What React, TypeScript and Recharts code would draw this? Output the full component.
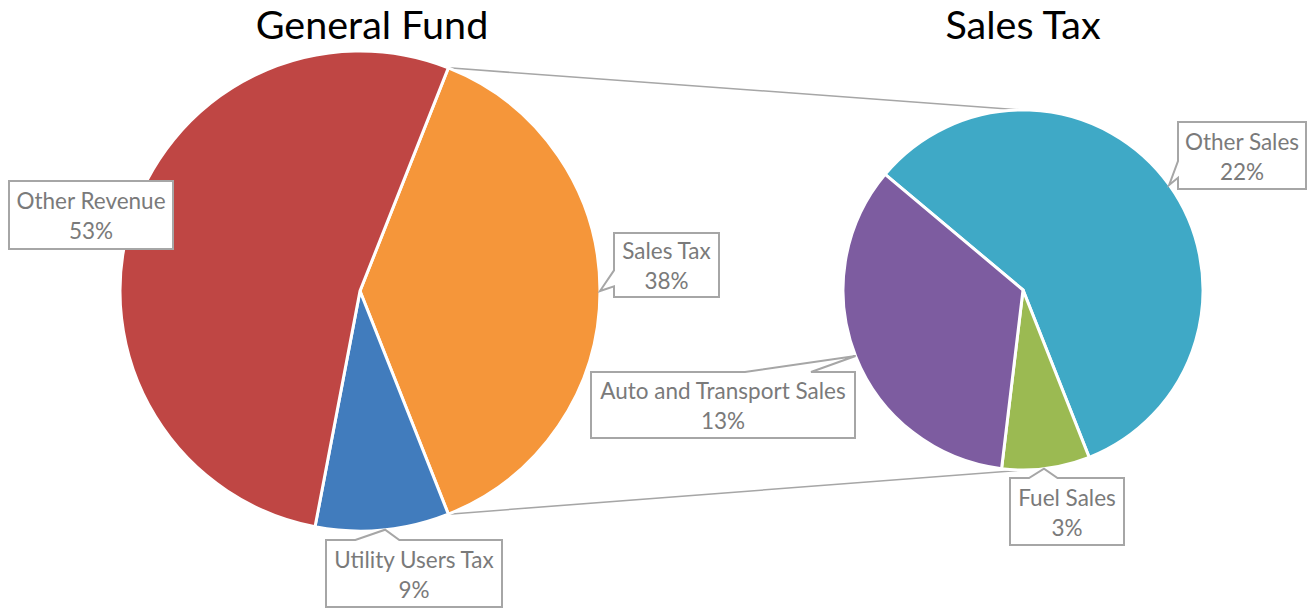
import React from 'react';
import { PieChart, Pie, Cell } from 'recharts';

// ---- data ----
const GF_CATEGORIES = ['Sales Tax', 'Utility Users Tax', 'Other Revenue'];
const GF_VALUES = [38, 9, 53];
const ST_CATEGORIES = ['Other Sales', 'Fuel Sales', 'Auto and Transport Sales'];
const ST_VALUES = [22, 3, 13];
const TITLES = ['General Fund', 'Sales Tax'];

// ---- styles / layout ----
const W = 1307;
const H = 608;
const GF_COLORS = ['#F5963A', '#417CBD', '#BF4644'];
const ST_COLORS = ['#3FA9C6', '#9BBA52', '#7D5CA0'];
const FONT = 'Lato, "Open Sans", sans-serif';
const LABEL_COLOR = '#7A7A7A';
const BOX_STROKE = '#A6A6A6';
const LABEL_SIZE = 22.5;
const TITLE_SIZE = 39.5;

const LEFT = { cx: 360, cy: 291, r: 240 };
const RIGHT = { cx: 1023, cy: 290, r: 180 };

// box centre offset from pie centre, box size, tip angle (deg, null = none)
const GF_LABEL_LAYOUT = [
  { dx: 306.5, dy: -26, w: 105, h: 64, tip: 0 },
  { dx: 54, dy: 282.5, w: 176, h: 67, tip: -84 },
  { dx: -269, dy: -76, w: 164, h: 68, tip: null },
];
const ST_LABEL_LAYOUT = [
  { dx: 219, dy: -134.5, w: 128, h: 67, tip: 35.7 },
  { dx: 44, dy: 221.5, w: 114, h: 67, tip: -83.3 },
  { dx: -300, dy: 115, w: 264, h: 66, tip: 201.5 },
];

const gfData = GF_CATEGORIES.map((name, i) => ({ name, value: GF_VALUES[i] }));
const stData = ST_CATEGORIES.map((name, i) => ({ name, value: ST_VALUES[i] }));

const gfStart = (GF_VALUES[0] / GF_VALUES.reduce((a, b) => a + b, 0)) * 180;
const stStart = 140;

function calloutPath(x: number, y: number, w: number, h: number, tx: number | null, ty: number | null) {
  const rect = `M${x},${y} L${x + w},${y} L${x + w},${y + h} L${x},${y + h} Z`;
  if (tx == null || ty == null) return rect;
  if (tx >= x && tx <= x + w && ty >= y && ty <= y + h) return rect;
  const hc = x + w / 2;
  const vc = y + h / 2;
  const dx = tx - hc;
  const dy = ty - vc;
  const dq = (dx * h) / w;
  const dz = Math.abs(dy) - Math.abs(dq);
  const x1 = x + (w * (dx > 0 ? 7 : 2)) / 12;
  const x2 = x + (w * (dx > 0 ? 10 : 5)) / 12;
  const y1 = y + (h * (dy > 0 ? 7 : 2)) / 12;
  const y2 = y + (h * (dy > 0 ? 10 : 5)) / 12;
  let d = `M${x},${y}`;
  if (dz > 0 && dy < 0) d += ` L${x1},${y} L${tx},${ty} L${x2},${y}`;
  d += ` L${x + w},${y}`;
  if (dz <= 0 && dx > 0) d += ` L${x + w},${y1} L${tx},${ty} L${x + w},${y2}`;
  d += ` L${x + w},${y + h}`;
  if (dz > 0 && dy > 0) d += ` L${x2},${y + h} L${tx},${ty} L${x1},${y + h}`;
  d += ` L${x},${y + h}`;
  if (dz <= 0 && dx < 0) d += ` L${x},${y2} L${tx},${ty} L${x},${y1}`;
  d += ' Z';
  return d;
}

function makeLabel(layout: typeof GF_LABEL_LAYOUT) {
  return (props: any) => {
    const { cx, cy, outerRadius, index, name, value } = props;
    const L = layout[index];
    const bx = cx + L.dx - L.w / 2;
    const by = cy + L.dy - L.h / 2;
    let tx: number | null = null;
    let ty: number | null = null;
    if (L.tip != null) {
      const a = (L.tip * Math.PI) / 180;
      tx = cx + outerRadius * Math.cos(a);
      ty = cy - outerRadius * Math.sin(a);
    }
    const mx = bx + L.w / 2;
    const my = by + L.h / 2;
    return (
      <g key={`lbl-${name}`}>
        <path d={calloutPath(bx, by, L.w, L.h, tx, ty)} fill="#fff" stroke={BOX_STROKE} strokeWidth={2} />
        <text x={mx} y={my - 6} textAnchor="middle" fontFamily={FONT} fontSize={LABEL_SIZE} fill={LABEL_COLOR}>
          {name}
        </text>
        <text x={mx} y={my + 24} textAnchor="middle" fontFamily={FONT} fontSize={LABEL_SIZE} fill={LABEL_COLOR}>
          {`${value}%`}
        </text>
      </g>
    );
  };
}

export default function App() {
  const a1 = (gfStart * Math.PI) / 180;
  const p1 = { x: LEFT.cx + LEFT.r * Math.cos(a1), y: LEFT.cy - LEFT.r * Math.sin(a1) };
  const p2 = { x: LEFT.cx + LEFT.r * Math.cos(-a1), y: LEFT.cy - LEFT.r * Math.sin(-a1) };
  const q1 = { x: RIGHT.cx, y: RIGHT.cy - RIGHT.r };
  const q2 = { x: RIGHT.cx, y: RIGHT.cy + RIGHT.r };
  return (
    <div style={{ position: 'absolute', left: 0, top: 0, width: W, height: H, background: '#fff' }}>
      <svg width={W} height={H} style={{ position: 'absolute', left: 0, top: 0 }}>
        <line x1={p1.x} y1={p1.y} x2={q1.x} y2={q1.y} stroke={BOX_STROKE} strokeWidth={1.5} />
        <line x1={p2.x} y1={p2.y} x2={q2.x} y2={q2.y} stroke={BOX_STROKE} strokeWidth={1.5} />
        <text x={372} y={39} textAnchor="middle" fontFamily={FONT} fontSize={TITLE_SIZE} fill="#000">
          {TITLES[0]}
        </text>
        <text x={1023} y={39} textAnchor="middle" fontFamily={FONT} fontSize={TITLE_SIZE} fill="#000">
          {TITLES[1]}
        </text>
      </svg>
      <div style={{ position: 'absolute', left: 0, top: 0 }}>
        <PieChart width={W} height={H} margin={{ top: 0, right: 0, bottom: 0, left: 0 }}>
          <Pie
            data={gfData}
            dataKey="value"
            nameKey="name"
            cx={LEFT.cx}
            cy={LEFT.cy}
            outerRadius={LEFT.r}
            startAngle={gfStart}
            endAngle={gfStart - 360}
            stroke="#fff"
            strokeWidth={3}
            isAnimationActive={false}
            labelLine={false}
            label={makeLabel(GF_LABEL_LAYOUT)}
          >
            {gfData.map((d, i) => (
              <Cell key={d.name} fill={GF_COLORS[i]} />
            ))}
          </Pie>
          <Pie
            data={stData}
            dataKey="value"
            nameKey="name"
            cx={RIGHT.cx}
            cy={RIGHT.cy}
            outerRadius={RIGHT.r}
            startAngle={stStart}
            endAngle={stStart - 360}
            stroke="#fff"
            strokeWidth={3}
            isAnimationActive={false}
            labelLine={false}
            label={makeLabel(ST_LABEL_LAYOUT)}
          >
            {stData.map((d, i) => (
              <Cell key={d.name} fill={ST_COLORS[i]} />
            ))}
          </Pie>
        </PieChart>
      </div>
    </div>
  );
}
